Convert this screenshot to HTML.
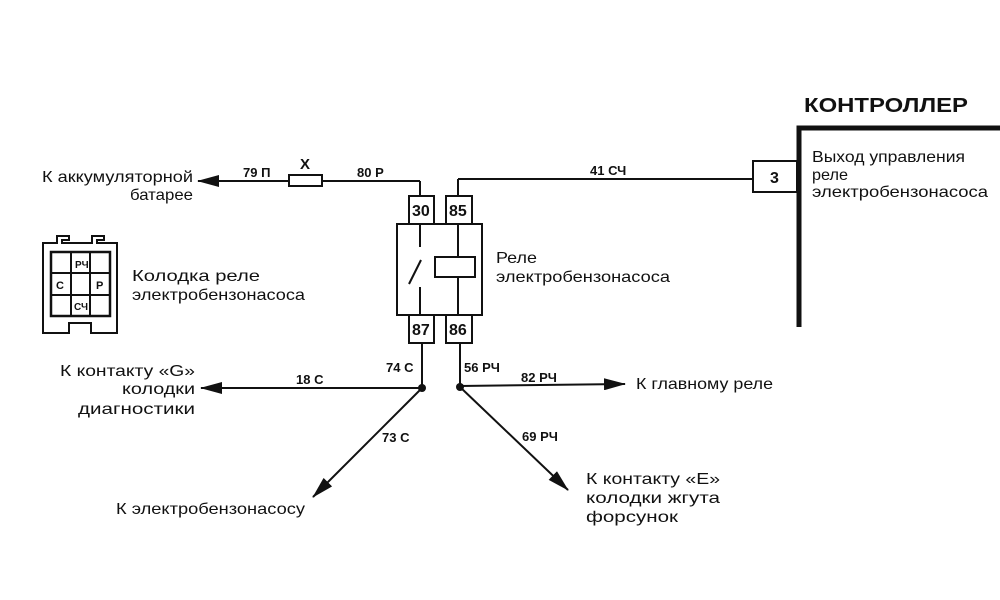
<!DOCTYPE html>
<html><head><meta charset="utf-8"><style>
html,body{margin:0;padding:0;background:#fff;}
svg{display:block;}
text{font-family:"Liberation Sans",sans-serif;fill:#111;}
.l{font-size:16px;}
.w{font-size:13px;font-weight:bold;}
.t{font-size:16px;font-weight:bold;}
</style></head><body>
<svg width="1000" height="600" viewBox="0 0 1000 600" xmlns="http://www.w3.org/2000/svg">
<defs>
<marker id="b" markerWidth="22" markerHeight="12" refX="21" refY="6" orient="auto" markerUnits="userSpaceOnUse" viewBox="0 0 22 12">
<path d="M0,0 L22,6 L0,12 Z" fill="#111"/></marker>
</defs>
<g stroke="#111" stroke-width="2" fill="none">
<line x1="420" y1="196" x2="420" y2="181"/>
<line x1="420" y1="181" x2="322" y2="181"/>
<rect x="289" y="175" width="33" height="11" fill="#fff"/>
<line x1="289" y1="181" x2="198" y2="181" marker-end="url(#b)"/>
<line x1="458" y1="196" x2="458" y2="179"/>
<line x1="458" y1="179" x2="753" y2="179"/>
<rect x="753" y="161" width="44" height="31"/>
<path d="M799 327 V128 H1000" stroke-width="5"/>
<rect x="409" y="196" width="25" height="28"/>
<rect x="446" y="196" width="26" height="28"/>
<rect x="397" y="224" width="85" height="91"/>
<rect x="409" y="315" width="25" height="28"/>
<rect x="446" y="315" width="26" height="28"/>
<line x1="420" y1="224" x2="420" y2="247"/>
<line x1="409" y1="284" x2="421" y2="260"/>
<line x1="420" y1="287" x2="420" y2="315"/>
<line x1="458" y1="224" x2="458" y2="257"/>
<rect x="435" y="257" width="40" height="20"/>
<line x1="458" y1="277" x2="458" y2="315"/>
<line x1="422" y1="343" x2="422" y2="388"/>
<line x1="460" y1="343" x2="460" y2="387"/>
<line x1="422" y1="388" x2="201" y2="388" marker-end="url(#b)"/>
<line x1="460" y1="386" x2="625" y2="384" marker-end="url(#b)"/>
<line x1="422" y1="388" x2="313" y2="497" marker-end="url(#b)"/>
<line x1="460" y1="387" x2="568" y2="490" marker-end="url(#b)"/>
<path d="M43 243 H57 V236 H69 V240 H62 V243 H92 V236 H104 V240 H97 V243 H117 V333 H91 V323 H69 V333 H43 Z"/>
<rect x="51" y="252" width="59" height="64" stroke-width="2.5"/>
<line x1="71" y1="252" x2="71" y2="316"/>
<line x1="90" y1="252" x2="90" y2="316"/>
<line x1="51" y1="273" x2="110" y2="273"/>
<line x1="51" y1="295" x2="110" y2="295"/>
</g>
<circle cx="422" cy="388" r="4" fill="#111"/>
<circle cx="460" cy="387" r="4" fill="#111"/>
<g class="w">
<text x="75" y="268" font-size="10">РЧ</text>
<text x="56" y="289" font-size="11">С</text>
<text x="96" y="289" font-size="11">Р</text>
<text x="74" y="310" font-size="10">СЧ</text>
</g>
<text class="t" x="412" y="216">30</text>
<text class="t" x="449" y="216">85</text>
<text class="t" x="412" y="335">87</text>
<text class="t" x="449" y="335">86</text>
<text class="t" x="770" y="183">3</text>
<text x="804" y="112" font-size="20" font-weight="bold" textLength="164" lengthAdjust="spacingAndGlyphs">КОНТРОЛЛЕР</text>
<g class="w">
<text x="243" y="177">79 П</text>
<text x="300" y="169" font-size="15">Х</text>
<text x="357" y="177">80 Р</text>
<text x="590" y="175">41 СЧ</text>
<text x="386" y="372">74 С</text>
<text x="464" y="372">56 РЧ</text>
<text x="296" y="384">18 С</text>
<text x="521" y="382">82 РЧ</text>
<text x="382" y="442">73 С</text>
<text x="522" y="441">69 РЧ</text>
</g>
<g class="l" lengthAdjust="spacingAndGlyphs">
<text x="42" y="182" textLength="151" lengthAdjust="spacingAndGlyphs">К аккумуляторной</text>
<text x="130" y="200" textLength="63" lengthAdjust="spacingAndGlyphs">батарее</text>
<text x="132" y="281" textLength="128" lengthAdjust="spacingAndGlyphs">Колодка реле</text>
<text x="132" y="300" textLength="173" lengthAdjust="spacingAndGlyphs">электробензонасоса</text>
<text x="496" y="263" textLength="41" lengthAdjust="spacingAndGlyphs">Реле</text>
<text x="496" y="282" textLength="174" lengthAdjust="spacingAndGlyphs">электробензонасоса</text>
<text x="812" y="162" textLength="153" lengthAdjust="spacingAndGlyphs">Выход управления</text>
<text x="812" y="180" textLength="36" lengthAdjust="spacingAndGlyphs">реле</text>
<text x="812" y="197" textLength="176" lengthAdjust="spacingAndGlyphs">электробензонасоса</text>
<text x="60" y="376" textLength="135" lengthAdjust="spacingAndGlyphs">К контакту «G»</text>
<text x="122" y="394" textLength="73" lengthAdjust="spacingAndGlyphs">колодки</text>
<text x="78" y="414" textLength="117" lengthAdjust="spacingAndGlyphs">диагностики</text>
<text x="636" y="389" textLength="137" lengthAdjust="spacingAndGlyphs">К главному реле</text>
<text x="116" y="514" textLength="189" lengthAdjust="spacingAndGlyphs">К электробензонасосу</text>
<text x="586" y="484" textLength="134" lengthAdjust="spacingAndGlyphs">К контакту «Е»</text>
<text x="586" y="503" textLength="134" lengthAdjust="spacingAndGlyphs">колодки жгута</text>
<text x="586" y="522" textLength="92" lengthAdjust="spacingAndGlyphs">форсунок</text>
</g>
</svg>
</body></html>
